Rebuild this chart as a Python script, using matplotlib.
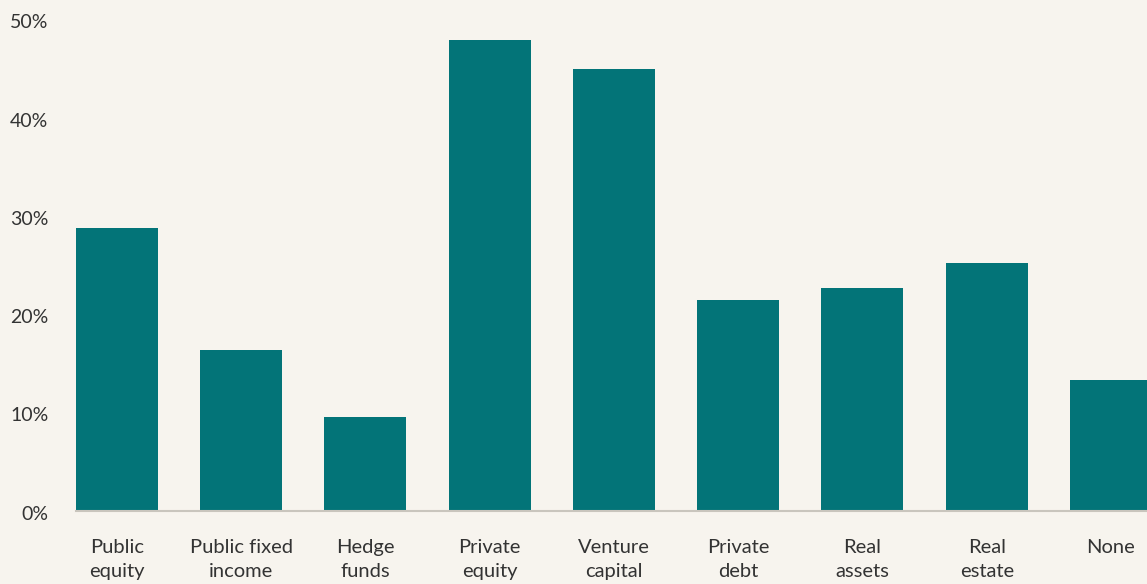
import matplotlib.pyplot as plt
import matplotlib.transforms as mtransforms
from matplotlib.ticker import FuncFormatter

# share of respondents by asset class
categories = ["Public\nequity", "Public fixed\nincome", "Hedge\nfunds", "Private\nequity",
              "Venture\ncapital", "Private\ndebt", "Real\nassets", "Real\nestate", "None"]
values = [28.8, 16.4, 9.6, 48.0, 45.0, 21.5, 22.7, 25.3, 13.3]
y_ticks = [0, 10, 20, 30, 40, 50]

bg = "#f7f4ee"
bar_color = "#037478"
text_color = "#333333"

plt.rcParams['font.family'] = ['Lato', 'DejaVu Sans']

fig = plt.figure(figsize=(11.47, 5.84), dpi=100, facecolor=bg)
ax = fig.add_axes([76 / 1147, 73 / 584, 1 - 76 / 1147, 491 / 584])
ax.set_facecolor(bg)

x = range(len(categories))
ax.bar(x, values, width=0.66, color=bar_color, zorder=2)

ax.set_xlim(-0.33, 8.29)
ax.set_ylim(0, 50)
ax.set_yticks(y_ticks)
ax.yaxis.set_major_formatter(FuncFormatter(lambda v, _: f"{v:.0f}%"))
ax.set_xticks(list(x))
ax.set_xticklabels(categories, linespacing=1.5)

for side in ["top", "right", "left"]:
    ax.spines[side].set_visible(False)
ax.spines["bottom"].set_color("#c9c5bd")
ax.spines["bottom"].set_linewidth(1.5)

ax.tick_params(axis="y", length=0, pad=20, labelsize=14, labelcolor=text_color)
ax.tick_params(axis="x", length=0, pad=20, labelsize=14.5, labelcolor=text_color)

# nudge y labels a little below their tick positions
shift = mtransforms.ScaledTranslation(0, -3 / 100, fig.dpi_scale_trans)
for lab in ax.get_yticklabels():
    lab.set_verticalalignment("center")
    lab.set_transform(lab.get_transform() + shift)

fig.savefig("out.png", dpi=100, facecolor=bg)
